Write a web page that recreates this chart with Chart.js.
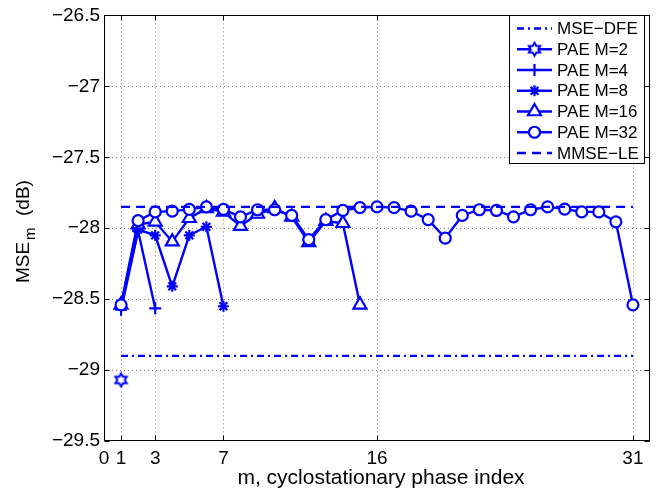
<!DOCTYPE html>
<html>
<head>
<meta charset="utf-8">
<script src="https://cdn.jsdelivr.net/npm/chart.js@4.4.1/dist/chart.umd.min.js"></script>
<style>
  html, body { margin: 0; padding: 0; background: #fff; }
</style>
</head>
<body>
<canvas id="mseChart" width="663" height="493"></canvas>
<script>
// phase index ticks shown on the x axis
const xTicks = [0, 1, 3, 7, 16, 31];
const yTicks = [-26.5, -27, -27.5, -28, -28.5, -29, -29.5];

// reference lines (from m=1 to m=31)
const refX = [1, 31];
const mseDfe = [-28.9, -28.9];
const mmseLe = [-27.85, -27.85];

// PAE curves, value for m = 1, 2, 3, ...
const pae2 = [-29.07];
const pae4 = [-28.575, -28.02, -28.565];
const pae8 = [-28.55, -28.01, -28.05, -28.41, -28.05, -27.99, -28.55];
const pae16 = [-28.54, -27.975, -27.955, -28.095, -27.93, -27.86, -27.885, -27.985,
    -27.90, -27.86, -27.92, -28.10, -27.95, -27.965, -28.54];
const pae32 = [-28.54, -27.947, -27.885, -27.88, -27.867, -27.85, -27.867, -27.92,
    -27.87, -27.87, -27.91, -28.08, -27.94, -27.875, -27.855, -27.85, -27.855, -27.88,
    -27.94, -28.07, -27.91, -27.87, -27.875, -27.92, -27.87, -27.85, -27.865, -27.885,
    -27.885, -27.955, -28.54];

const blue = '#0000ff';
const font = '"Liberation Sans", Arial, Helvetica, sans-serif';

// six pointed star marker (no built-in hexagram in Chart.js)
function makeHexagram(r) {
    const size = Math.ceil(r * 2 + 4);
    const c = document.createElement('canvas');
    c.width = size;
    c.height = size;
    const g = c.getContext('2d');
    const cx = size / 2, cy = size / 2;
    g.beginPath();
    for (let i = 0; i < 12; i++) {
        const rad = i % 2 === 0 ? r : r / Math.sqrt(3);
        const a = -Math.PI / 2 + i * Math.PI / 6;
        const px = cx + Math.cos(a) * rad, py = cy + Math.sin(a) * rad;
        if (i === 0) g.moveTo(px, py); else g.lineTo(px, py);
    }
    g.closePath();
    g.fillStyle = '#fff';
    g.fill();
    g.lineWidth = 2;
    g.strokeStyle = blue;
    g.stroke();
    return c;
}

const toPoints = (xs, ys) => ys.map((v, i) => ({ x: xs[i], y: v }));
const byPhase = ys => ys.map((v, i) => ({ x: i + 1, y: v }));

function series(label, data, extra) {
    return Object.assign({
        label: label,
        data: data,
        borderColor: blue,
        backgroundColor: '#fff',
        pointBorderColor: blue,
        pointBackgroundColor: '#fff',
        borderWidth: 2.4,
        pointBorderWidth: 2.2,
        pointRadius: 0,
        tension: 0,
        fill: false
    }, extra);
}

const datasets = [
    series('MSE\u2212DFE', toPoints(refX, mseDfe), { borderDash: [7, 4, 2, 4], order: 6 }),
    series('PAE M=2', byPhase(pae2), { pointStyle: makeHexagram(6.5), pointRadius: 6, order: 5 }),
    series('PAE M=4', byPhase(pae4), { pointStyle: 'cross', pointRadius: 6, order: 4 }),
    series('PAE M=8', byPhase(pae8), { pointStyle: 'star', pointRadius: 5.5, order: 3 }),
    series('PAE M=16', byPhase(pae16), { pointStyle: 'triangle', pointRadius: 7.5, order: 2 }),
    series('PAE M=32', byPhase(pae32), { pointStyle: 'circle', pointRadius: 5.5, order: 1 }),
    series('MMSE\u2212LE', toPoints(refX, mmseLe), { borderDash: [9, 6], order: 0 })
];

// grid, box, inward ticks, legend and axis titles in the MATLAB look
const matlabLook = {
    id: 'matlabLook',
    beforeDatasetsDraw(chart) {
        const { ctx, chartArea: a, scales: { x, y } } = chart;
        ctx.save();
        ctx.strokeStyle = 'rgba(0,0,0,0.5)';
        ctx.lineWidth = 1;
        ctx.setLineDash([1, 3]);
        xTicks.forEach(t => {
            const px = Math.round(x.getPixelForValue(t)) + 0.5;
            if (px <= a.left + 1 || px >= a.right - 1) return;
            ctx.beginPath(); ctx.moveTo(px, a.top); ctx.lineTo(px, a.bottom); ctx.stroke();
        });
        yTicks.forEach(t => {
            const py = Math.round(y.getPixelForValue(t)) + 0.5;
            if (py <= a.top + 1 || py >= a.bottom - 1) return;
            ctx.beginPath(); ctx.moveTo(a.left, py); ctx.lineTo(a.right, py); ctx.stroke();
        });
        ctx.restore();
    },
    afterDatasetsDraw(chart) {
        const { ctx, chartArea: a, scales: { x, y } } = chart;
        ctx.save();
        ctx.strokeStyle = '#000';
        ctx.lineWidth = 1;
        ctx.setLineDash([]);
        const L = Math.round(a.left) + 0.5, R = Math.round(a.right) - 0.5;
        const T = Math.round(a.top) + 0.5, B = Math.round(a.bottom) - 0.5;
        ctx.strokeRect(L, T, R - L, B - T);
        const tl = 5;
        ctx.beginPath();
        xTicks.forEach(t => {
            const px = Math.round(x.getPixelForValue(t)) + 0.5;
            ctx.moveTo(px, B); ctx.lineTo(px, B - tl);
            ctx.moveTo(px, T); ctx.lineTo(px, T + tl);
        });
        yTicks.forEach(t => {
            const py = Math.round(y.getPixelForValue(t)) + 0.5;
            ctx.moveTo(L, py); ctx.lineTo(L + tl, py);
            ctx.moveTo(R, py); ctx.lineTo(R - tl, py);
        });
        ctx.stroke();
        ctx.restore();
    },
    afterDraw(chart) {
        const { ctx, chartArea: a } = chart;
        ctx.save();

        // legend
        const bx = 509.5, by = 15.5, bw = 135, bh = 148;
        ctx.fillStyle = '#fff';
        ctx.fillRect(bx, by, bw, bh);
        ctx.strokeStyle = '#000';
        ctx.lineWidth = 1;
        ctx.strokeRect(bx, by, bw, bh);
        ctx.font = '17px ' + font;
        ctx.textBaseline = 'middle';
        ctx.textAlign = 'left';
        chart.data.datasets.forEach((ds, i) => {
            const ry = 28.5 + i * 20.75;
            ctx.strokeStyle = blue;
            ctx.lineWidth = 2.4;
            ctx.setLineDash(ds.borderDash || []);
            ctx.beginPath(); ctx.moveTo(517, ry); ctx.lineTo(552, ry); ctx.stroke();
            ctx.setLineDash([]);
            if (ds.pointRadius > 0 && Chart.helpers && Chart.helpers.drawPoint) {
                ctx.fillStyle = '#fff';
                ctx.strokeStyle = blue;
                ctx.lineWidth = 2.2;
                Chart.helpers.drawPoint(ctx, {
                    pointStyle: ds.pointStyle, rotation: 0,
                    radius: ds.pointRadius, borderWidth: 2.2
                }, 534.5, ry);
            }
            ctx.fillStyle = '#000';
            ctx.fillText(ds.label, 557, ry + 1);
        });

        // x title
        ctx.fillStyle = '#000';
        ctx.font = '21px ' + font;
        ctx.textAlign = 'center';
        ctx.textBaseline = 'alphabetic';
        ctx.fillText('m, cyclostationary phase index', (a.left + a.right) / 2 + 4, 484);

        // y title with subscript
        ctx.translate(29, 0);
        ctx.rotate(-Math.PI / 2);
        ctx.textAlign = 'left';
        ctx.font = '19px ' + font;
        ctx.fillText('MSE', -283, 0);
        ctx.font = '15px ' + font;
        ctx.fillText('m', -240, 6);
        ctx.font = '19px ' + font;
        ctx.fillText('(dB)', -216, 0);
        ctx.restore();
    }
};

new Chart(document.getElementById('mseChart'), {
    type: 'line',
    data: { datasets: datasets },
    plugins: [matlabLook],
    options: {
        responsive: false,
        animation: false,
        devicePixelRatio: 1,
        layout: { padding: { top: 9, right: 13, left: 0, bottom: 0 } },
        plugins: {
            legend: { display: false },
            tooltip: { enabled: false }
        },
        scales: {
            x: {
                type: 'linear',
                min: 0,
                max: 32,
                grid: { display: false, drawTicks: false, tickLength: 0 },
                border: { display: false },
                afterBuildTicks: s => { s.ticks = xTicks.map(v => ({ value: v })); },
                afterFit: s => { s.height = 52; },
                ticks: {
                    autoSkip: false,
                    maxRotation: 0,
                    padding: 6,
                    color: '#000',
                    font: { family: font, size: 19 },
                    callback: v => String(v)
                }
            },
            y: {
                type: 'linear',
                min: -29.5,
                max: -26.5,
                grid: { display: false, drawTicks: false, tickLength: 0 },
                border: { display: false },
                afterBuildTicks: s => { s.ticks = yTicks.map(v => ({ value: v })); },
                afterFit: s => { s.width = 104; },
                ticks: {
                    padding: 4,
                    color: '#000',
                    font: { family: font, size: 19 },
                    callback: v => String(v).replace('-', '\u2212')
                }
            }
        }
    }
});
</script>
</body>
</html>
